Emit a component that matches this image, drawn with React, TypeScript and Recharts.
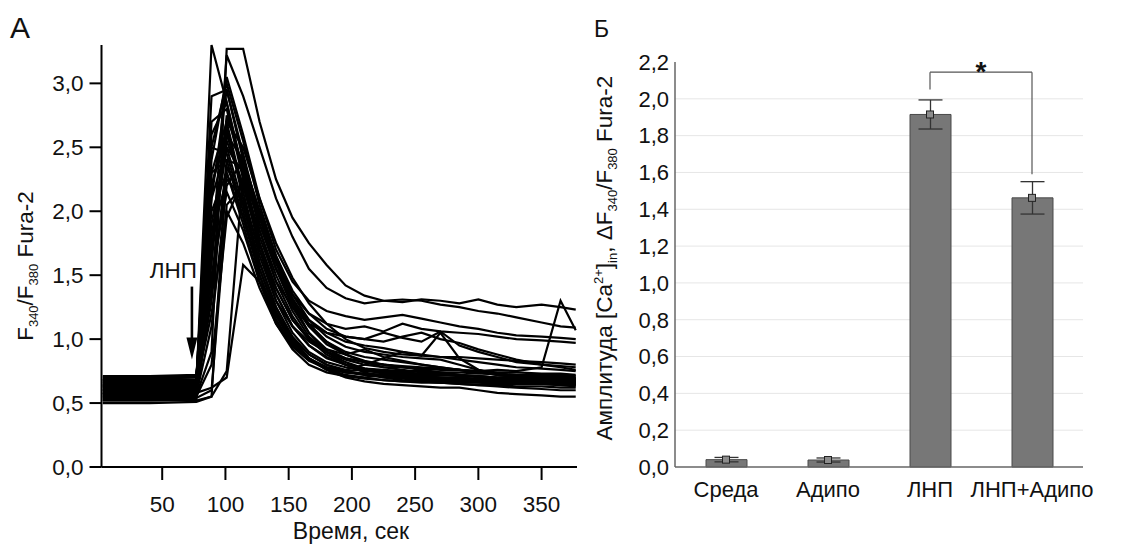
import React from 'react';
import {
  LineChart,
  Line,
  XAxis,
  YAxis,
  ComposedChart,
  Bar,
  ErrorBar,
  CartesianGrid,
  ReferenceLine,
  ReferenceDot,
} from 'recharts';

const FONT = '"Liberation Sans", Arial, Helvetica, sans-serif';

// ---------- Panel A: Fura-2 traces ----------
const timePoints = [3, 40, 77, 89, 101, 114, 127, 140, 153, 166, 180, 195, 210, 225, 240, 255, 270, 285, 300, 315, 330, 350, 365, 377];

const trace01 = [0.62, 0.63, 0.64, 3.30, 2.85, 2.30, 1.75, 1.35, 1.10, 0.95, 0.85, 0.80, 0.77, 0.75, 0.74, 0.73, 0.73, 0.72, 0.71, 0.70, 0.70, 0.69, 0.69, 0.68];
const trace02 = [0.55, 0.56, 0.56, 0.90, 3.27, 3.27, 2.70, 2.25, 1.95, 1.75, 1.58, 1.42, 1.34, 1.30, 1.29, 1.31, 1.30, 1.28, 1.31, 1.27, 1.25, 1.27, 1.25, 1.23];
const trace03 = [0.60, 0.61, 0.61, 1.60, 3.22, 2.90, 2.50, 2.10, 1.80, 1.55, 1.40, 1.32, 1.28, 1.30, 1.31, 1.30, 1.27, 1.25, 1.22, 1.20, 1.17, 1.13, 1.10, 1.09];
const trace04 = [0.66, 0.66, 0.67, 2.40, 3.05, 2.60, 2.10, 1.70, 1.45, 1.30, 1.22, 1.18, 1.15, 1.17, 1.19, 1.16, 1.13, 1.10, 1.08, 1.05, 1.03, 1.02, 1.01, 1.00];
const trace05 = [0.58, 0.58, 0.59, 2.10, 2.95, 2.45, 1.95, 1.60, 1.35, 1.20, 1.12, 1.08, 1.10, 1.06, 1.12, 1.08, 1.06, 1.05, 1.04, 1.02, 1.00, 0.99, 0.98, 0.97];
const trace06 = [0.68, 0.69, 0.70, 2.60, 2.85, 2.30, 1.80, 1.45, 1.25, 1.12, 1.05, 1.02, 1.00, 1.05, 1.01, 0.98, 1.06, 0.95, 0.90, 0.86, 0.82, 0.80, 0.79, 0.78];
const trace07 = [0.52, 0.52, 0.53, 1.40, 2.75, 2.35, 1.90, 1.55, 1.30, 1.15, 1.05, 0.98, 0.95, 0.93, 0.90, 0.88, 0.86, 0.84, 0.82, 0.80, 0.78, 0.77, 0.76, 0.75];
const trace08 = [0.64, 0.64, 0.65, 2.30, 2.70, 2.15, 1.65, 1.30, 1.10, 0.98, 0.90, 0.85, 0.82, 0.80, 0.78, 0.77, 0.76, 0.76, 0.75, 0.76, 0.75, 0.78, 1.30, 1.07];
const trace09 = [0.57, 0.57, 0.58, 0.62, 0.70, 1.58, 1.45, 1.20, 1.00, 0.88, 0.80, 0.75, 0.72, 0.70, 0.69, 0.68, 0.68, 0.67, 0.67, 0.66, 0.66, 0.65, 0.65, 0.65];
const trace10 = [0.70, 0.70, 0.71, 2.20, 2.65, 2.10, 1.60, 1.25, 1.02, 0.88, 0.80, 0.76, 0.80, 0.85, 0.90, 0.87, 1.05, 0.85, 0.76, 0.72, 0.70, 0.69, 0.68, 0.68];
const trace11 = [0.62, 0.62, 0.63, 1.90, 2.55, 2.20, 1.75, 1.40, 1.15, 1.00, 0.92, 0.88, 0.92, 0.86, 0.83, 0.80, 0.78, 0.76, 0.74, 0.72, 0.71, 0.70, 0.70, 0.69];
const trace12 = [0.54, 0.54, 0.55, 1.70, 2.50, 2.05, 1.55, 1.20, 0.98, 0.85, 0.77, 0.72, 0.70, 0.68, 0.67, 0.66, 0.66, 0.65, 0.64, 0.64, 0.63, 0.63, 0.62, 0.62];
const trace13 = [0.66, 0.67, 0.67, 2.50, 2.45, 2.00, 1.50, 1.15, 0.95, 0.84, 0.78, 0.74, 0.73, 0.72, 0.71, 0.70, 0.70, 0.70, 0.69, 0.69, 0.68, 0.68, 0.68, 0.67];
const trace14 = [0.60, 0.60, 0.60, 1.30, 2.40, 2.35, 1.95, 1.55, 1.25, 1.05, 0.92, 0.85, 0.82, 0.80, 0.79, 0.78, 0.77, 0.76, 0.74, 0.72, 0.71, 0.70, 0.70, 0.70];
const trace15 = [0.50, 0.50, 0.51, 0.55, 2.35, 2.05, 1.60, 1.25, 1.00, 0.85, 0.76, 0.70, 0.67, 0.65, 0.64, 0.63, 0.62, 0.62, 0.60, 0.58, 0.57, 0.56, 0.55, 0.55];
const trace16 = [0.64, 0.65, 0.65, 2.00, 2.30, 1.90, 1.45, 1.12, 0.92, 0.80, 0.74, 0.71, 0.70, 0.72, 0.70, 0.68, 0.67, 0.67, 0.66, 0.66, 0.66, 0.65, 0.65, 0.64];
const trace17 = [0.71, 0.71, 0.72, 1.80, 2.25, 2.10, 1.70, 1.35, 1.10, 0.95, 0.86, 0.80, 0.77, 0.76, 0.75, 0.75, 0.74, 0.74, 0.73, 0.73, 0.72, 0.72, 0.72, 0.71];
const trace18 = [0.56, 0.56, 0.57, 1.10, 2.20, 2.40, 2.00, 1.60, 1.30, 1.10, 0.96, 0.88, 0.83, 0.80, 0.78, 0.76, 0.74, 0.72, 0.70, 0.68, 0.67, 0.66, 0.66, 0.66];
const trace19 = [0.59, 0.59, 0.60, 1.50, 2.15, 1.85, 1.45, 1.15, 0.95, 0.84, 0.78, 0.75, 0.76, 0.73, 0.72, 0.71, 0.70, 0.69, 0.68, 0.68, 0.67, 0.67, 0.67, 0.66];
const trace20 = [0.68, 0.68, 0.68, 2.70, 2.80, 2.25, 1.70, 1.30, 1.05, 0.90, 0.82, 0.78, 0.75, 0.74, 0.73, 0.72, 0.72, 0.71, 0.71, 0.70, 0.70, 0.70, 0.69, 0.69];
const trace21 = [0.53, 0.53, 0.54, 0.60, 2.05, 2.20, 1.85, 1.50, 1.22, 1.02, 0.90, 0.82, 0.77, 0.75, 0.73, 0.71, 0.70, 0.69, 0.68, 0.67, 0.66, 0.65, 0.64, 0.63];
const trace22 = [0.63, 0.63, 0.64, 1.20, 2.00, 1.75, 1.40, 1.12, 0.94, 0.83, 0.77, 0.74, 0.73, 0.72, 0.70, 0.69, 0.68, 0.68, 0.67, 0.66, 0.66, 0.65, 0.65, 0.65];
const trace23 = [0.61, 0.61, 0.62, 2.20, 2.60, 2.40, 2.00, 1.65, 1.38, 1.20, 1.08, 1.02, 1.00, 0.98, 1.02, 1.05, 1.00, 0.97, 0.92, 0.88, 0.84, 0.80, 0.78, 0.76];
const trace24 = [0.57, 0.58, 0.58, 1.60, 2.70, 2.50, 2.10, 1.75, 1.48, 1.28, 1.12, 1.00, 0.93, 0.90, 0.88, 0.87, 0.86, 0.86, 0.85, 0.84, 0.83, 0.82, 0.81, 0.80];
const trace25 = [0.65, 0.65, 0.66, 2.90, 2.95, 2.40, 1.85, 1.45, 1.18, 1.00, 0.88, 0.80, 0.76, 0.74, 0.72, 0.71, 0.70, 0.70, 0.69, 0.69, 0.68, 0.68, 0.67, 0.67];
const trace26 = [0.52, 0.52, 0.52, 0.55, 0.75, 2.30, 2.00, 1.60, 1.28, 1.05, 0.90, 0.80, 0.74, 0.70, 0.68, 0.67, 0.66, 0.65, 0.64, 0.63, 0.62, 0.61, 0.60, 0.60];
const trace27 = [0.69, 0.69, 0.70, 2.10, 2.50, 2.30, 1.90, 1.55, 1.28, 1.10, 0.98, 0.90, 0.86, 0.84, 0.82, 0.80, 0.78, 0.76, 0.74, 0.73, 0.72, 0.71, 0.71, 0.70];
const trace28 = [0.58, 0.58, 0.59, 1.40, 2.30, 1.95, 1.55, 1.22, 0.98, 0.84, 0.76, 0.71, 0.69, 0.68, 0.67, 0.67, 0.66, 0.66, 0.66, 0.65, 0.65, 0.65, 0.64, 0.64];
const trace29 = [0.63, 0.64, 0.64, 2.50, 3.00, 2.55, 2.05, 1.65, 1.35, 1.15, 1.02, 0.94, 0.90, 0.88, 0.86, 0.85, 0.84, 0.80, 0.76, 0.73, 0.71, 0.70, 0.70, 0.69];
const trace30 = [0.55, 0.55, 0.55, 0.80, 1.95, 2.25, 1.95, 1.62, 1.32, 1.12, 0.98, 0.88, 0.82, 0.78, 0.76, 0.74, 0.73, 0.72, 0.71, 0.70, 0.69, 0.68, 0.68, 0.67];
const trace31 = [0.67, 0.67, 0.68, 2.30, 2.40, 1.95, 1.50, 1.18, 0.97, 0.85, 0.78, 0.74, 0.72, 0.71, 0.70, 0.69, 0.69, 0.68, 0.68, 0.67, 0.67, 0.67, 0.66, 0.66];
const trace32 = [0.60, 0.60, 0.61, 1.80, 2.60, 2.20, 1.75, 1.40, 1.15, 1.00, 0.90, 0.84, 0.80, 0.78, 0.78, 0.77, 0.77, 0.76, 0.75, 0.74, 0.74, 0.73, 0.73, 0.72];

const traces = [
  trace01, trace02, trace03, trace04, trace05, trace06, trace07, trace08,
  trace09, trace10, trace11, trace12, trace13, trace14, trace15, trace16,
  trace17, trace18, trace19, trace20, trace21, trace22, trace23, trace24,
  trace25, trace26, trace27, trace28, trace29, trace30, trace31, trace32,
];

const xTicksA = [50, 100, 150, 200, 250, 300, 350];
const yTicksA = [0, 0.5, 1.0, 1.5, 2.0, 2.5, 3.0];
const xDomainA: [number, number] = [2, 378];
const yDomainA: [number, number] = [0, 3.3];
const stimulusTime = 73.5;
const stimulusArrowTip = 0.84;
const stimulusLabel = 'ЛНП';

// ---------- Panel Б: amplitudes ----------
const groups = ['Среда', 'Адипо', 'ЛНП', 'ЛНП+Адипо'];
const amplitudes = [0.04, 0.038, 1.915, 1.462];
const errors = [0.012, 0.011, 0.079, 0.088];
const yTicksB = [0, 0.2, 0.4, 0.6, 0.8, 1.0, 1.2, 1.4, 1.6, 1.8, 2.0, 2.2];
const gridValuesB = [0.2, 0.4, 0.6, 0.8, 1.0, 1.2, 1.4, 1.6, 1.8, 2.0];
const yDomainB: [number, number] = [0, 2.2];
const bracketTop = 2.145;
const bracketLeftBottom = 2.05;
const bracketRightBottom = 1.59;
const significance = '*';

const rowsA = timePoints.map((t, i) => {
  const row: Record<string, number> = { t };
  traces.forEach((tr, k) => {
    row[`s${k}`] = tr[i];
  });
  return row;
});

const rowsB = groups.map((name, i) => ({ name, value: amplitudes[i], err: errors[i] }));

const comma = (v: number) => v.toFixed(1).replace('.', ',');

const StimulusArrow = (props: any) => {
  const { cx, cy } = props;
  if (cx == null || cy == null) return null;
  return (
    <g>
      <line x1={cx} y1={cy - 73} x2={cx} y2={cy - 20} stroke="#000" strokeWidth={2.6} />
      <polygon points={`${cx - 5.5},${cy - 22} ${cx + 5.5},${cy - 22} ${cx},${cy}`} fill="#000" />
      <text x={cx + 5} y={cy - 82} textAnchor="end" fontSize={22.5} fontFamily={FONT} fill="#111">
        {stimulusLabel}
      </text>
    </g>
  );
};

const SquareDot = (props: any) => {
  const { cx, cy, index } = props;
  if (cx == null || cy == null) return <g key={`sq-${index}`} />;
  return (
    <rect
      key={`sq-${index}`}
      x={cx - 3.5}
      y={cy - 3.5}
      width={7}
      height={7}
      fill="#8c8c8c"
      stroke="#222"
      strokeWidth={1}
    />
  );
};

export default function App() {
  return (
    <div
      style={{
        position: 'absolute',
        left: 0,
        top: 0,
        width: 1143,
        height: 546,
        background: '#fff',
        fontFamily: FONT,
        overflow: 'hidden',
      }}
    >
      <div style={{ position: 'absolute', left: 0, top: 0 }}>
        <LineChart
          width={580}
          height={546}
          data={rowsA}
          margin={{ top: 45, right: 3, bottom: 39, left: 41.5 }}
        >
          <XAxis
            dataKey="t"
            type="number"
            domain={xDomainA}
            ticks={xTicksA}
            interval={0}
            height={40}
            stroke="#000"
            strokeWidth={2}
            tickSize={13}
            tickMargin={16}
            tick={{ fill: '#111', fontSize: 22.5, fontFamily: FONT }}
          />
          <YAxis
            type="number"
            domain={yDomainA}
            ticks={yTicksA}
            interval={0}
            width={60}
            stroke="#000"
            strokeWidth={2}
            tickSize={12}
            tickMargin={6}
            tickFormatter={comma}
            tick={{ fill: '#111', fontSize: 22.5, fontFamily: FONT }}
          />
          {traces.map((_, k) => (
            <Line
              key={k}
              type="linear"
              dataKey={`s${k}`}
              stroke="#000"
              strokeWidth={2.2}
              dot={false}
              activeDot={false}
              isAnimationActive={false}
            />
          ))}
          <ReferenceDot
            x={stimulusTime}
            y={stimulusArrowTip}
            ifOverflow="visible"
            shape={StimulusArrow}
          />
        </LineChart>
      </div>

      <div style={{ position: 'absolute', left: 580, top: 0 }}>
        <ComposedChart
          width={563}
          height={546}
          data={rowsB}
          margin={{ top: 62, right: 60, bottom: 39, left: 35 }}
        >
          <CartesianGrid vertical={false} stroke="#e6e6e6" horizontalValues={gridValuesB} />
          <XAxis
            dataKey="name"
            type="category"
            height={40}
            stroke="#666"
            strokeWidth={1.5}
            tickLine={false}
            tickSize={6}
            tickMargin={8}
            interval={0}
            tick={{ fill: '#111', fontSize: 22, fontFamily: FONT }}
          />
          <YAxis
            type="number"
            domain={yDomainB}
            ticks={yTicksB}
            interval={0}
            width={60}
            stroke="#666"
            strokeWidth={1.5}
            tickLine={false}
            tickSize={3}
            tickMargin={3}
            tickFormatter={comma}
            tick={{ fill: '#111', fontSize: 22, fontFamily: FONT }}
          />
          <Bar
            dataKey="value"
            barSize={41}
            fill="#777777"
            stroke="#4a4a4a"
            strokeWidth={1}
            isAnimationActive={false}
          >
            <ErrorBar dataKey="err" width={12} stroke="#333" strokeWidth={1.3} direction="y" />
          </Bar>
          <Line
            dataKey="value"
            stroke="none"
            dot={SquareDot}
            activeDot={false}
            legendType="none"
            isAnimationActive={false}
          />
          <ReferenceLine
            segment={[{ x: 'ЛНП', y: bracketLeftBottom }, { x: 'ЛНП', y: bracketTop }]}
            stroke="#555"
            strokeWidth={1.2}
            ifOverflow="visible"
          />
          <ReferenceLine
            segment={[{ x: 'ЛНП', y: bracketTop }, { x: 'ЛНП+Адипо', y: bracketTop }]}
            stroke="#555"
            strokeWidth={1.2}
            ifOverflow="visible"
            label={{
              value: significance,
              position: 'top',
              offset: -9,
              fontSize: 28,
              fontWeight: 'bold',
              fill: '#111',
              fontFamily: FONT,
            }}
          />
          <ReferenceLine
            segment={[{ x: 'ЛНП+Адипо', y: bracketTop }, { x: 'ЛНП+Адипо', y: bracketRightBottom }]}
            stroke="#555"
            strokeWidth={1.2}
            ifOverflow="visible"
          />
        </ComposedChart>
      </div>

      <svg
        width={1143}
        height={546}
        style={{ position: 'absolute', left: 0, top: 0, pointerEvents: 'none' }}
        fontFamily={FONT}
      >
        <text x={10} y={38} fontSize={30} fill="#111">А</text>
        <text x={594} y={37} fontSize={23} fill="#111">Б</text>
        <text x={351} y={539} fontSize={23} fill="#111" textAnchor="middle">Время, сек</text>
        <text x={33} y={266} fontSize={22.5} fill="#111" textAnchor="middle" transform="rotate(-90 33 266)">
          F<tspan fontSize={13} dy={5}>340</tspan>
          <tspan dy={-5}>/F</tspan>
          <tspan fontSize={13} dy={5}>380</tspan>
          <tspan dy={-5}> Fura-2</tspan>
        </text>
        <text x={612} y={258} fontSize={22.5} fill="#111" textAnchor="middle" transform="rotate(-90 612 258)">
          Амплитуда [Ca<tspan fontSize={13} dy={-9}>2+</tspan>
          <tspan dy={9}>]</tspan>
          <tspan fontSize={13} dy={5}>in</tspan>
          <tspan dy={-5}>, ΔF</tspan>
          <tspan fontSize={13} dy={5}>340</tspan>
          <tspan dy={-5}>/F</tspan>
          <tspan fontSize={13} dy={5}>380</tspan>
          <tspan dy={-5}> Fura-2</tspan>
        </text>
      </svg>
    </div>
  );
}
